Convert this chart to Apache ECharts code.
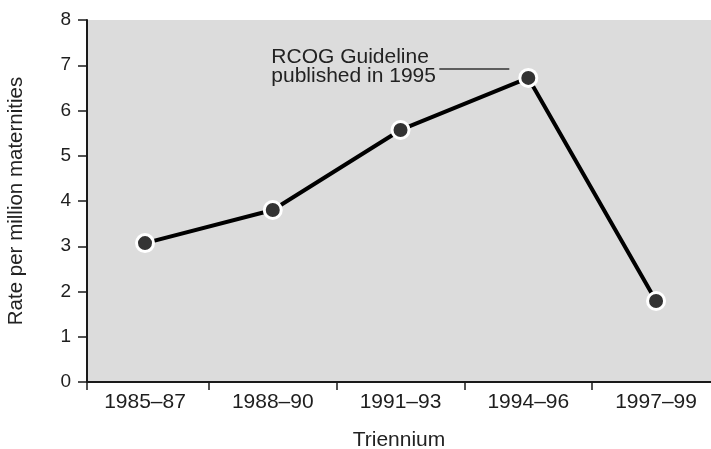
<!DOCTYPE html>
<html>
<head>
<meta charset="utf-8">
<script src="https://cdn.jsdelivr.net/npm/echarts@6/dist/echarts.min.js"></script>
<style>
html,body{margin:0;padding:0;background:#fff;}
#c{width:711px;height:449px;}
</style>
</head>
<body>
<div id="c"></div>
<script>
var categories = ['1985\u201387', '1988\u201390', '1991\u201393', '1994\u201396', '1997\u201399'];
var rates = [3.07, 3.8, 5.57, 6.72, 1.79];
var yTicks = [0, 1, 2, 3, 4, 5, 6, 7, 8];
var annotationText = 'RCOG Guideline\npublished in 1995';
var annotationIndex = 3;

var xMin = -0.454, xMax = 4.43;
var seriesData = rates.map(function (v, i) { return [i, v]; });
var labelPos = categories.map(function (c, i) { return i; });
var tickPos = [xMin].concat(categories.slice(1).map(function (c, i) { return i + 0.5; }));

var FONT = '"Liberation Sans", Arial, sans-serif';
var chart = echarts.init(document.getElementById('c'), null, {renderer: 'canvas'});
chart.setOption({
  animation: false,
  backgroundColor: '#ffffff',
  grid: {left: 87, right: 0, top: 20, bottom: 67, show: true, backgroundColor: '#dcdcdc', borderWidth: 0,
    containLabel: false, outerBoundsMode: 'none'},
  xAxis: {
    type: 'value', min: xMin, max: xMax,
    name: 'Triennium', nameLocation: 'middle', nameGap: 48,
    nameTextStyle: {fontFamily: FONT, fontSize: 21, color: '#222'},
    axisLine: {show: true, onZero: false, lineStyle: {color: '#1a1a1a', width: 2}},
    axisTick: {show: true, length: 8, customValues: tickPos, lineStyle: {color: '#1a1a1a', width: 1.5}},
    axisLabel: {customValues: labelPos, margin: 10, fontFamily: FONT, fontSize: 21, color: '#1e1e1e',
      formatter: function (v) { return categories[Math.round(v)] || ''; }},
    splitLine: {show: false}
  },
  yAxis: {
    type: 'value', min: yTicks[0], max: yTicks[yTicks.length - 1], interval: 1,
    name: 'Rate per million maternities', nameLocation: 'middle', nameGap: 60,
    nameTextStyle: {fontFamily: FONT, fontSize: 20.5, color: '#222'},
    axisLine: {show: true, onZero: false, lineStyle: {color: '#1a1a1a', width: 2}},
    axisTick: {show: true, length: 9, lineStyle: {color: '#1a1a1a', width: 1.5}},
    axisLabel: {margin: 16, fontFamily: FONT, fontSize: 19, color: '#1e1e1e'},
    splitLine: {show: false}
  },
  series: [{
    type: 'line',
    data: seriesData,
    symbol: 'circle',
    symbolSize: 17,
    lineStyle: {color: '#000', width: 4},
    itemStyle: {color: '#333333', borderColor: '#ffffff', borderWidth: 3},
    z: 5
  }]
});

var p = chart.convertToPixel({gridIndex: 0}, seriesData[annotationIndex]);
chart.setOption({
  graphic: [
    {type: 'text', z: 10, style: {x: p[0] - 257, y: p[1] - 30, text: annotationText,
      font: '21px ' + FONT, fill: '#222', lineHeight: 19, textVerticalAlign: 'top'}},
    {type: 'line', z: 10, shape: {x1: p[0] - 89, y1: p[1] - 9, x2: p[0] - 19, y2: p[1] - 9},
      style: {stroke: '#333', lineWidth: 1.5}}
  ]
});
</script>
</body>
</html>
